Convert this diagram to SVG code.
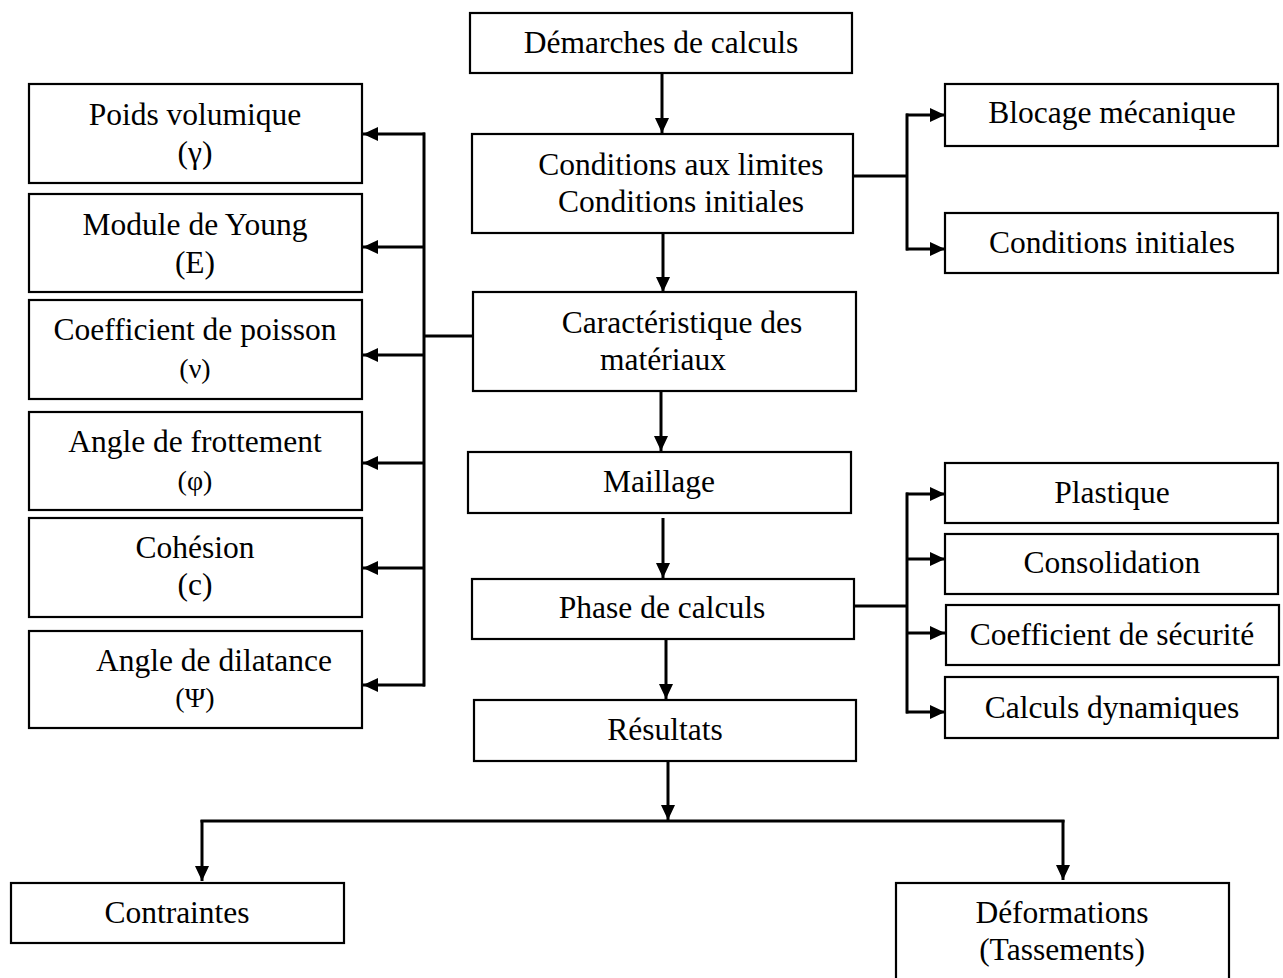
<svg xmlns="http://www.w3.org/2000/svg" width="1283" height="978" viewBox="0 0 1283 978">
<style>
.box{fill:#fff;stroke:#000;stroke-width:2.2}
text{font-family:'Liberation Serif','Times New Roman',Times,serif;font-size:31.5px;fill:#000;text-anchor:middle}
.sym{font-size:28px}
.c{fill:none;stroke:#000;stroke-width:3}
.a{marker-end:url(#ah)}
</style>
<defs>
<marker id="ah" markerUnits="userSpaceOnUse" markerWidth="15" markerHeight="14" refX="15" refY="7" orient="auto">
<path d="M0,0 L15,7 L0,14 z" fill="#000"/>
</marker>
</defs>
<rect width="1283" height="978" fill="#fff"/>

<g id="connectors">
<line class="c a" x1="662" y1="73" x2="662" y2="133"/>
<line class="c a" x1="663" y1="233" x2="663" y2="292"/>
<line class="c a" x1="661" y1="391" x2="661" y2="451"/>
<line class="c a" x1="663" y1="518" x2="663" y2="578"/>
<line class="c a" x1="666" y1="639" x2="666" y2="699"/>
<line class="c a" x1="668" y1="761" x2="668" y2="820"/>
<line class="c" x1="473" y1="336" x2="424" y2="336"/>
<line class="c" x1="424" y1="132.5" x2="424" y2="686.5"/>
<line class="c a" x1="425" y1="134" x2="363" y2="134"/>
<line class="c a" x1="425" y1="247" x2="363" y2="247"/>
<line class="c a" x1="425" y1="355" x2="363" y2="355"/>
<line class="c a" x1="425" y1="463" x2="363" y2="463"/>
<line class="c a" x1="425" y1="568" x2="363" y2="568"/>
<line class="c a" x1="425" y1="685" x2="363" y2="685"/>
<line class="c" x1="853" y1="176" x2="907" y2="176"/>
<line class="c" x1="907" y1="113.5" x2="907" y2="250.5"/>
<line class="c a" x1="906" y1="115" x2="945" y2="115"/>
<line class="c a" x1="906" y1="249" x2="945" y2="249"/>
<line class="c" x1="854" y1="606" x2="907" y2="606"/>
<line class="c" x1="907" y1="492.5" x2="907" y2="713.5"/>
<line class="c a" x1="906" y1="494" x2="945" y2="494"/>
<line class="c a" x1="906" y1="559" x2="945" y2="559"/>
<line class="c a" x1="906" y1="633" x2="945" y2="633"/>
<line class="c a" x1="906" y1="712" x2="945" y2="712"/>
<line class="c" x1="200.5" y1="821" x2="1064.5" y2="821"/>
<line class="c a" x1="202" y1="820" x2="202" y2="881"/>
<line class="c a" x1="1063" y1="820" x2="1063" y2="880"/>
</g>

<g id="n-demarches"><rect class="box" x="470" y="13" width="382" height="60"/><text x="661" y="53">Démarches de calculs</text></g>
<g id="n-conditions"><rect class="box" x="472" y="134" width="381" height="99"/><text x="681" y="175">Conditions aux limites</text><text x="681" y="212">Conditions initiales</text></g>
<g id="n-caract"><rect class="box" x="473" y="292" width="383" height="99"/><text x="682" y="333">Caractéristique des</text><text x="663" y="370">matériaux</text></g>
<g id="n-maillage"><rect class="box" x="468" y="452" width="383" height="61"/><text x="659" y="492">Maillage</text></g>
<g id="n-phase"><rect class="box" x="472" y="579" width="382" height="60"/><text x="662" y="618">Phase de calculs</text></g>
<g id="n-resultats"><rect class="box" x="474" y="700" width="382" height="61"/><text x="665" y="740">Résultats</text></g>

<g id="n-poids"><rect class="box" x="29" y="84" width="333" height="99"/><text x="195" y="125">Poids volumique</text><text x="195" y="163">(γ)</text></g>
<g id="n-young"><rect class="box" x="29" y="194" width="333" height="98"/><text x="195" y="235">Module de Young</text><text x="195" y="273">(E)</text></g>
<g id="n-poisson"><rect class="box" x="29" y="300" width="333" height="99"/><text x="195" y="340">Coefficient de poisson</text><text class="sym" x="195" y="378">(ν)</text></g>
<g id="n-frottement"><rect class="box" x="29" y="412" width="333" height="98"/><text x="195" y="452">Angle de frottement</text><text class="sym" x="195" y="490">(φ)</text></g>
<g id="n-cohesion"><rect class="box" x="29" y="518" width="333" height="99"/><text x="195" y="558">Cohésion</text><text x="195" y="595">(c)</text></g>
<g id="n-dilatance"><rect class="box" x="29" y="631" width="333" height="97"/><text x="214" y="671">Angle de dilatance</text><text class="sym" x="195" y="707">(Ψ)</text></g>

<g id="n-blocage"><rect class="box" x="945" y="84" width="333" height="62"/><text x="1112" y="123">Blocage mécanique</text></g>
<g id="n-condinit"><rect class="box" x="945" y="213" width="333" height="60"/><text x="1112" y="253">Conditions initiales</text></g>
<g id="n-plastique"><rect class="box" x="945" y="463" width="333" height="60"/><text x="1112" y="503">Plastique</text></g>
<g id="n-consolidation"><rect class="box" x="945" y="534" width="333" height="60"/><text x="1112" y="573">Consolidation</text></g>
<g id="n-securite"><rect class="box" x="946" y="605" width="333" height="60"/><text x="1112" y="645">Coefficient de sécurité</text></g>
<g id="n-dynamiques"><rect class="box" x="945" y="677" width="333" height="61"/><text x="1112" y="718">Calculs dynamiques</text></g>

<g id="n-contraintes"><rect class="box" x="11" y="883" width="333" height="60"/><text x="177" y="923">Contraintes</text></g>
<g id="n-deformations"><rect class="box" x="896" y="883" width="333" height="110"/><text x="1062" y="923">Déformations</text><text x="1062" y="960">(Tassements)</text></g>
</svg>
